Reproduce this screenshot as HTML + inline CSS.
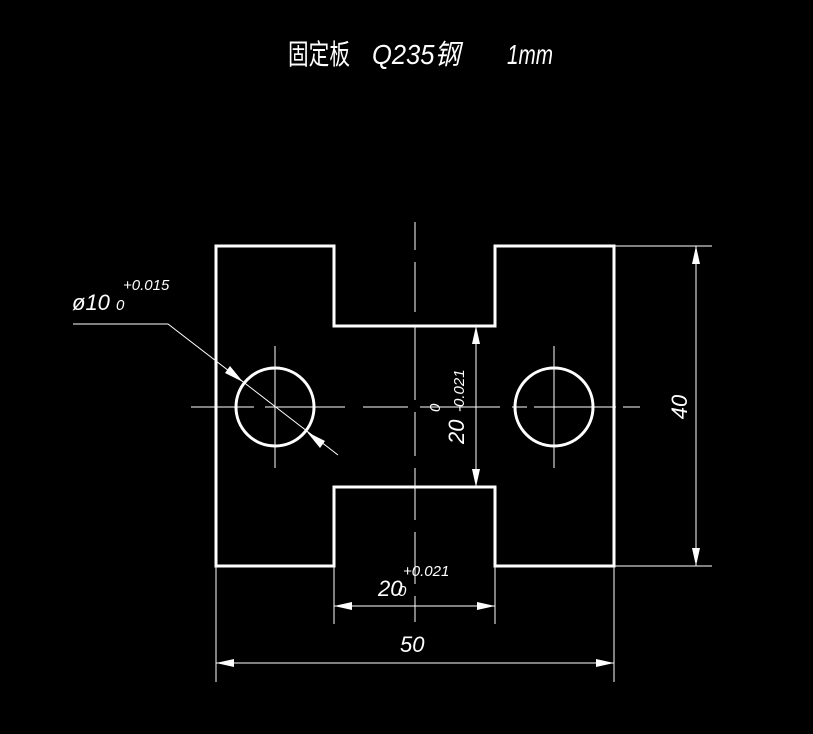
<!DOCTYPE html>
<html><head><meta charset="utf-8"><style>body{margin:0;background:#000}svg{display:block}</style></head><body>
<svg width="813" height="734" viewBox="0 0 813 734" xmlns="http://www.w3.org/2000/svg">
<rect width="813" height="734" fill="#000"/>
<g font-family="'Liberation Sans','Noto Sans CJK SC',sans-serif" fill="#fff">
<text x="288" y="64" font-size="28" transform="scale(1,1)" textLength="62" lengthAdjust="spacingAndGlyphs">固定板</text>
<text x="372" y="64" font-size="28" font-style="italic" textLength="88" lengthAdjust="spacingAndGlyphs">Q235钢</text>
<text x="507" y="64" font-size="28" font-style="italic" textLength="46" lengthAdjust="spacingAndGlyphs">1mm</text>
</g>
<g stroke="#fff" fill="none">
<path d="M216 246 H334 V326 H495 V246 H614 V566 H495 V487 H334 V566 H216 Z" stroke-width="3"/>
<circle cx="275" cy="407" r="39" stroke-width="3"/>
<circle cx="554" cy="407" r="39" stroke-width="3"/>
<g stroke-width="1">
<path d="M191 407 H254 M265 407 H345 M363 407 H408 M420 407 H500 M512 407 H527 M534 407 H616 M623 407 H640"/>
<path d="M275 346 V468 M554 346 V468"/>
<path d="M415 222 V250 M415 262 V312 M415 325 V400 M415 412 V456 M415 468 V520 M415 532 V584 M415 596 V622"/>
<path d="M614 246 H712 M614 566 H712 M696 246 V566"/>
<path d="M216 566 V682 M614 566 V682 M216 663 H614"/>
<path d="M334 566 V624 M495 566 V624 M334 606 H495"/>
<path d="M476 326 V487"/>
<path d="M73 324 H168 L338 455"/>
</g>
</g>
<g fill="#fff">
<polygon points="696,246 692,264 700,264"/>
<polygon points="696,566 692,548 700,548"/>
<polygon points="216,663 234,659 234,667"/>
<polygon points="614,663 596,659 596,667"/>
<polygon points="334,606 352,602 352,610"/>
<polygon points="495,606 477,602 477,610"/>
<polygon points="476,326 472,344 480,344"/>
<polygon points="476,487 472,469 480,469"/>
<polygon points="243,382 225,373 230,366"/>
<polygon points="307,432 325,441 320,448"/>
</g>
<g font-family="'Liberation Sans',sans-serif" fill="#fff" font-style="italic">
<text x="72" y="310" font-size="22">ø10</text>
<text x="123" y="290" font-size="15">+0.015</text>
<text x="116" y="310" font-size="15">0</text>
<text x="400" y="652" font-size="22">50</text>
<text x="378" y="596" font-size="22">20</text>
<text x="403" y="576" font-size="15">+0.021</text>
<text x="398" y="596" font-size="15">0</text>
<text transform="translate(687,407) rotate(-90)" text-anchor="middle" font-size="22">40</text>
<text transform="translate(464,444) rotate(-90)" font-size="22">20</text>
<text transform="translate(464,412) rotate(-90)" font-size="15">-0.021</text>
<text transform="translate(440,412) rotate(-90)" font-size="15">0</text>
</g>
</svg>
</body></html>
